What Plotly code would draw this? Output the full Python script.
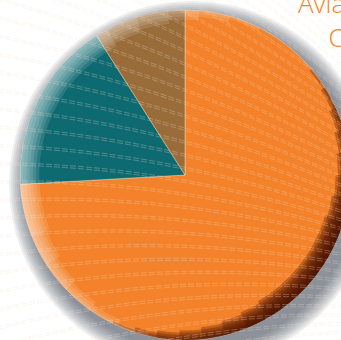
import plotly.graph_objects as go

# Slice data
labels = ["Aviation", "Segment B", "Segment C"]
values = [74.1, 16.9, 9.0]
colors = ["#F3822A", "#0E6A71", "#996C3A"]

title_text = "Aviation<br>Oil"

# Canvas (larger than the visible window so the pie bleeds off the right/bottom edge)
W, H = 400, 400
CX, CY, R = 185.0, 175.0, 165.0          # pie centre and radius in pixels


def domain(cx, cy, r):
    clamp = lambda v: min(1.0, max(0.0, v))
    return dict(x=[clamp((cx - r) / W), clamp((cx + r) / W)],
                y=[clamp(1 - (cy + r) / H), clamp(1 - (cy - r) / H)])


def disc(cx, cy, r, color):
    return go.Pie(values=[1], labels=["bg"], marker=dict(colors=[color]),
                  domain=domain(cx, cy, r), textinfo="none", hoverinfo="skip",
                  sort=False, showlegend=False)


def arc_band(centre_deg, half_width, thickness, color):
    """Ring segment on the pie rim (compass angle, clockwise from 12 o'clock)."""
    return go.Pie(values=[2 * half_width, 360 - 2 * half_width], labels=["band", "rest"],
                  marker=dict(colors=[color, "rgba(0,0,0,0)"], line=dict(width=0)),
                  hole=(R - thickness) / R, domain=domain(CX, CY, R),
                  rotation=centre_deg - half_width, direction="clockwise",
                  textinfo="none", hoverinfo="skip", sort=False, showlegend=False)


fig = go.Figure()

# soft drop shadow
sx, sy = CX + 7, CY + 9
for extra in range(18, 0, -2):
    fig.add_trace(disc(sx, sy, R + extra, "rgba(60,70,85,0.095)"))

# the pie itself
fig.add_trace(go.Pie(values=values, labels=labels,
                     marker=dict(colors=colors, line=dict(color="rgba(255,225,190,0.55)", width=0.8)),
                     domain=domain(CX, CY, R), textinfo="none", sort=False,
                     direction="clockwise", rotation=0, showlegend=False,
                     hovertemplate="%{label}: %{value}<extra></extra>"))

# dark inner shading along the lower-right rim
for k in range(1, 9):
    fig.add_trace(arc_band(128, 86 - 8 * k, 2.4 * k, "rgba(72,16,0,0.3)"))

# glossy highlight along the upper-left rim
for k in range(1, 7):
    fig.add_trace(arc_band(290, 108 - 11 * k, 3.2 * k, "rgba(255,255,255,0.12)"))

# decorative fan of fine double lines drawn over everything
FX, FY, Q = 650.0, 360.0, 0.00045
shapes = []
m = 0.12
while m <= 1.35:
    for off in (0.0, 2.2):
        pts = []
        for x in range(-10, 370, 10):
            u = FX - x
            y = FY - m * u + Q * u * u + off
            pts.append("%.5f,%.5f" % (x / W, 1 - y / H))
        shapes.append(dict(type="path", xref="paper", yref="paper", layer="above",
                           path="M " + " L ".join(pts),
                           line=dict(color="rgba(248,222,204,0.42)", width=0.7, dash="6px,2px")))
    m += 0.028

annotations = [
    dict(text=title_text, xref="paper", yref="paper", x=296 / W, y=1 - 20 / H,
         xanchor="left", yanchor="middle", align="center", showarrow=False,
         font=dict(family="Open Sans", size=26, color="#F5832A", weight=300)),
]

fig.update_layout(width=W, height=H, autosize=False,
                  margin=dict(l=0, r=0, t=0, b=0),
                  paper_bgcolor="white", plot_bgcolor="white",
                  shapes=shapes, annotations=annotations)

fig.write_html("out.html", config={"displayModeBar": False},
               post_script="document.documentElement.style.overflow='hidden';"
                           "document.body.style.overflow='hidden';")
